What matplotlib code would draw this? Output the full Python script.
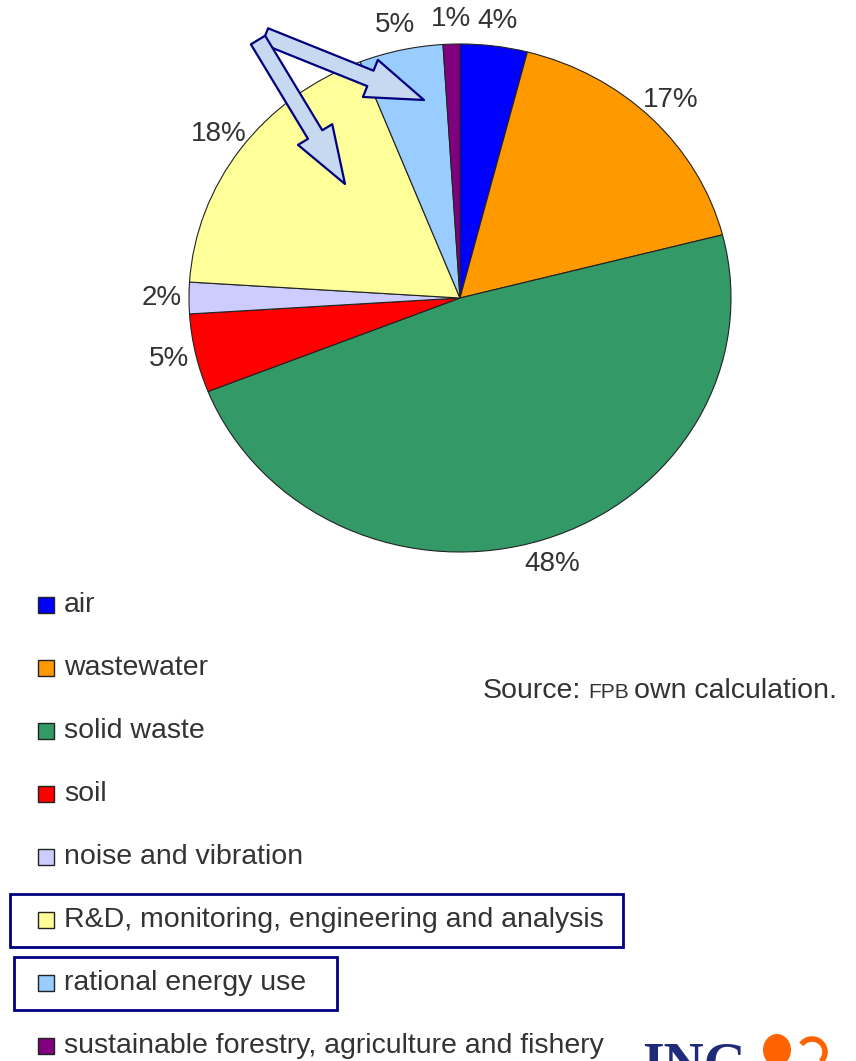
import matplotlib.pyplot as plt
import matplotlib.patches as mpatches

plt.rcParams['font.family'] = ['Liberation Sans', 'DejaVu Sans']

# --- data ---
categories = ["air", "wastewater", "solid waste", "soil", "noise and vibration",
              "R&D, monitoring, engineering and analysis", "rational energy use",
              "sustainable forestry, agriculture and fishery"]
shares = [4, 17, 48, 5, 2, 18, 5, 1]
colors = ["#0000FF", "#FF9900", "#339966", "#FF0000", "#CCCCFF",
          "#FFFF99", "#99CCFF", "#800080"]
highlighted = ["R&D, monitoring, engineering and analysis", "rational energy use"]

W, H = 856, 1061
NAVY = "#000080"
TEXT = "#333333"
FS = 20.5


def fx(px):
    return px / W


def fy(py):
    return 1 - py / H


fig = plt.figure(figsize=(W / 100, H / 100), dpi=100)
fig.patch.set_facecolor("white")

# --- pie (slightly wider than tall) ---
cx, cy, rx, ry = 460, 298, 271, 254
ax = fig.add_axes([fx(cx - rx), fy(cy + ry), 2 * rx / W, 2 * ry / H])
wedges, _, pct = ax.pie(shares, colors=colors, startangle=90, counterclock=False,
                        autopct="%d%%", pctdistance=1.1,
                        wedgeprops=dict(edgecolor="#222222", linewidth=0.8),
                        textprops=dict(fontsize=20, color=TEXT))
ax.set_xlim(-1, 1)
ax.set_ylim(-1, 1)
ax.set_aspect("auto")
ax.axis("off")

# --- callout arrows from the top-left ---
arrow_style = "simple,head_length=2.6,head_width=1.8,tail_width=0.75"
for tail, tip in [((265, 36), (424, 100)), ((258, 40), (345, 184))]:
    arr = mpatches.FancyArrowPatch((fx(tail[0]), fy(tail[1])), (fx(tip[0]), fy(tip[1])),
                                   transform=fig.transFigure, arrowstyle=arrow_style,
                                   mutation_scale=16, facecolor="#C6D9F1",
                                   edgecolor=NAVY, linewidth=1.6, shrinkA=0, shrinkB=0)
    fig.add_artist(arr)

# --- legend ---
row0, row_step = 605, 63
for i, (label, col) in enumerate(zip(categories, colors)):
    y = row0 + i * row_step
    fig.add_artist(mpatches.Rectangle((fx(38), fy(y + 8)), 16 / W, 16 / H,
                                      transform=fig.transFigure, facecolor=col,
                                      edgecolor="#222222", linewidth=1.0))
    fig.text(fx(64), fy(y), label, fontsize=FS, color=TEXT, va="center", ha="left")

# boxes around the highlighted entries
boxes = {highlighted[0]: (10, 623), highlighted[1]: (14, 337)}
for label, (x0, x1) in boxes.items():
    y = row0 + categories.index(label) * row_step
    fig.add_artist(mpatches.Rectangle((fx(x0), fy(y + 27)), (x1 - x0) / W, 53 / H,
                                      transform=fig.transFigure, facecolor="none",
                                      edgecolor=NAVY, linewidth=2.0))

# --- source note ---
fig.text(fx(483), fy(691), "Source:", fontsize=FS, color=TEXT, va="center")
fig.text(fx(588), fy(693), "FPB", fontsize=15, color=TEXT, va="center")
fig.text(fx(634), fy(691), "own calculation.", fontsize=FS, color=TEXT, va="center")

# --- logo ---
fig.text(fx(642), fy(1082), "ING", fontsize=40, fontweight="bold",
         family="Liberation Serif", color="#1F2A7A", va="baseline", ha="left")
fig.add_artist(mpatches.Ellipse((fx(777), fy(1050)), 28 / W, 32 / H,
                                transform=fig.transFigure, facecolor="#FF6200",
                                edgecolor="none"))
fig.add_artist(mpatches.Arc((fx(812), fy(1052)), 26 / W, 26 / H, theta1=-40, theta2=150,
                            transform=fig.transFigure, color="#FF6200", linewidth=4))

fig.savefig("out.png", dpi=100, facecolor="white")
